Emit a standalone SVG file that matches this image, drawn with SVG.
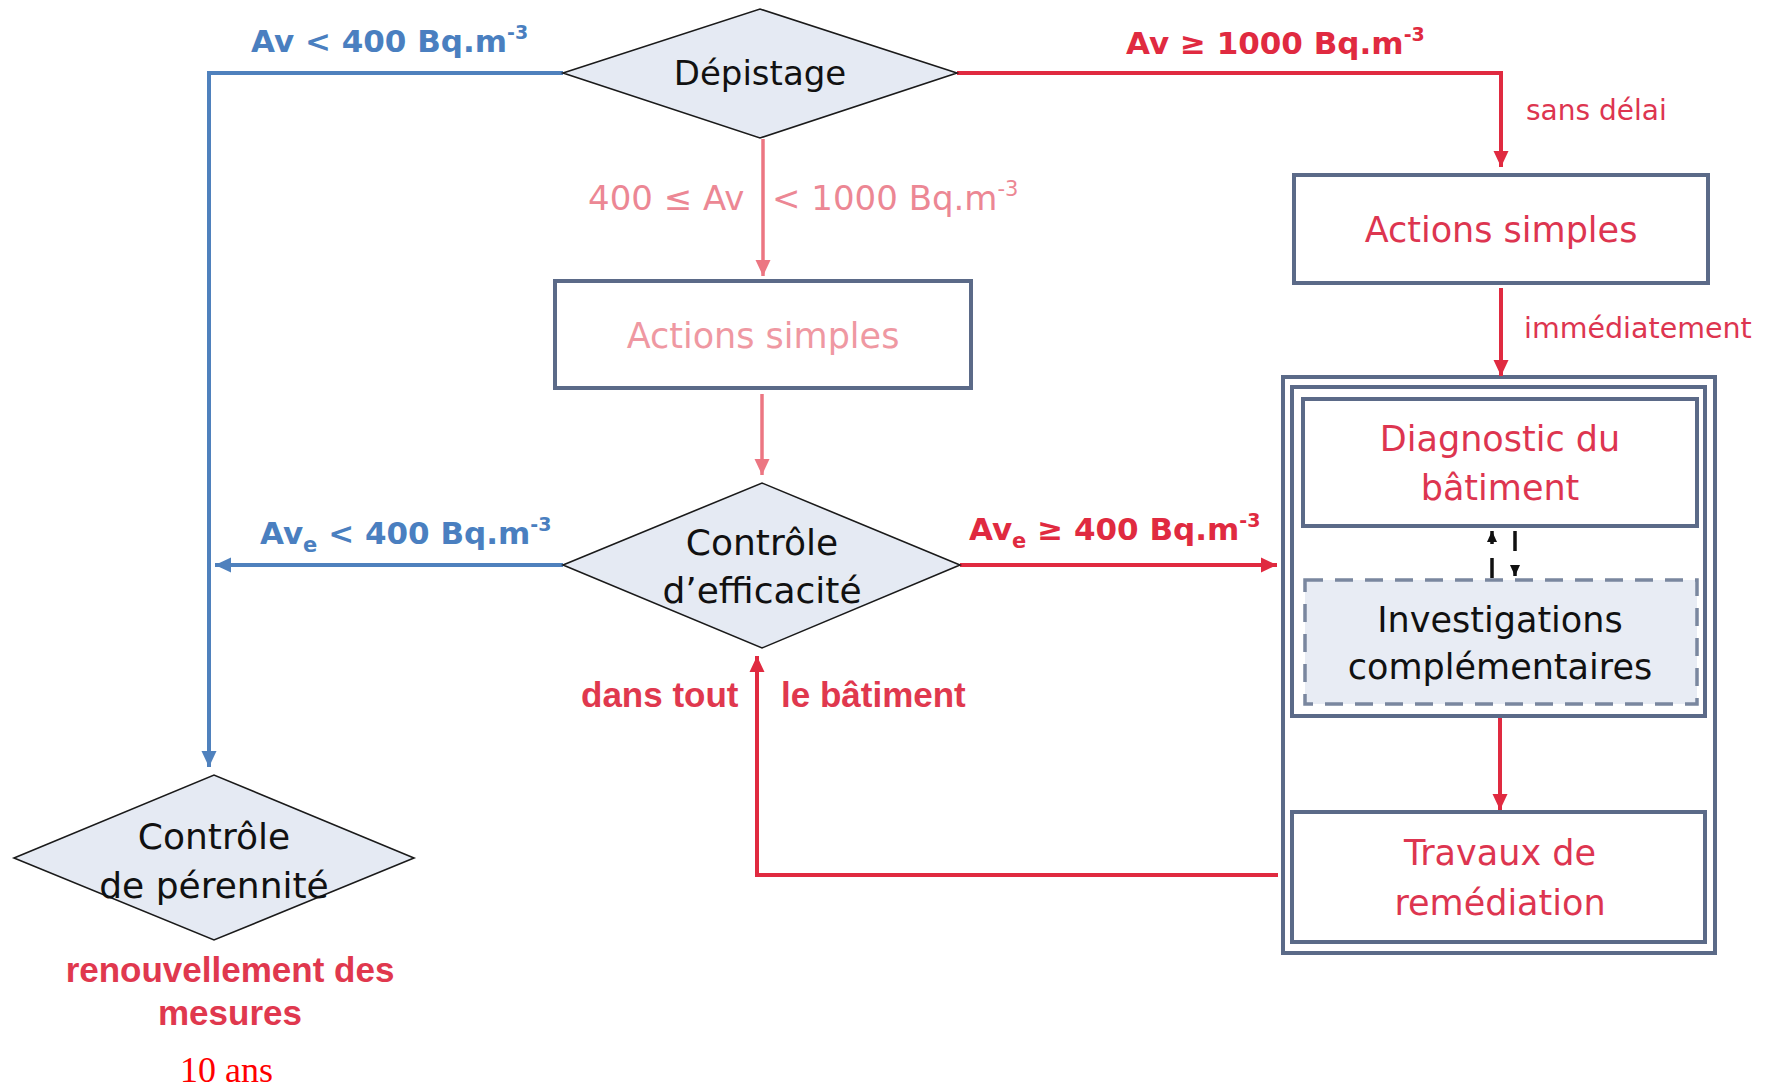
<svg xmlns="http://www.w3.org/2000/svg" width="1773" height="1087" viewBox="0 0 1773 1087">
<style>
  .bg{fill:#ffffff}
  .dia{fill:#e5eaf3;stroke:#1a1a1a;stroke-width:1.6}
  .box{fill:#ffffff;stroke:#5b6a88;stroke-width:4}
  .frame{fill:none;stroke:#5b6a88;stroke-width:4}
  .dash{fill:#e8ecf4;stroke:#7a879f;stroke-width:3.5;stroke-dasharray:18 12}
  .t{font-family:"DejaVu Sans","Verdana",sans-serif;text-anchor:middle}
  .lab{font-family:"DejaVu Sans","Verdana",sans-serif}
  .b{font-weight:bold}
  .black{fill:#111111}
  .red{fill:#dd3550}
  .redb{fill:#e02a40}
  .pink{fill:#ef98a2}
  .pinkl{fill:#ec8794}
  .blue{fill:#4a7fc0}
  .arb{font-family:"Liberation Sans",Arial,sans-serif;font-weight:bold;fill:#e0384e}
  .cb{fill:none;stroke:#4f81bd;stroke-width:4}
  .cr{fill:none;stroke:#e02a40;stroke-width:4}
  .cp{fill:none;stroke:#ec7682;stroke-width:3.5}
  .ck{fill:none;stroke:#111111;stroke-width:3.5;stroke-dasharray:20 14}
</style>
<defs>
  <marker id="ab" markerUnits="userSpaceOnUse" markerWidth="17" markerHeight="17" refX="16" refY="8.5" orient="auto"><path d="M0,1 L16,8.5 L0,16 z" fill="#4f81bd"/></marker>
  <marker id="ar" markerUnits="userSpaceOnUse" markerWidth="17" markerHeight="17" refX="16" refY="8.5" orient="auto"><path d="M0,1 L16,8.5 L0,16 z" fill="#e02a40"/></marker>
  <marker id="ap" markerUnits="userSpaceOnUse" markerWidth="17" markerHeight="17" refX="16" refY="8.5" orient="auto"><path d="M0,1 L16,8.5 L0,16 z" fill="#ec7682"/></marker>
  <marker id="ak" markerUnits="userSpaceOnUse" markerWidth="12" markerHeight="12" refX="11" refY="6" orient="auto"><path d="M0,1 L11,6 L0,11 z" fill="#111111"/></marker>
</defs>
<rect class="bg" x="0" y="0" width="1773" height="1087"/>

<g id="conteneur">
  <rect class="frame" x="1283" y="377" width="432" height="576" stroke-width="4.5"/>
  <rect class="frame" x="1292" y="387" width="413" height="329"/>
</g>

<g id="connectors">
  <path class="cb" d="M563,73 H209 V767" marker-end="url(#ab)"/>
  <path class="cr" d="M957,73 H1501 V167" marker-end="url(#ar)"/>
  <path class="cp" d="M763,139 V276" marker-end="url(#ap)"/>
  <path class="cr" d="M1501,288 V376" marker-end="url(#ar)"/>
  <path class="cp" d="M762,394 V475" marker-end="url(#ap)"/>
  <path class="cb" d="M563,565 H215" marker-end="url(#ab)"/>
  <path class="cr" d="M960,565 H1277" marker-end="url(#ar)"/>
  <path class="cr" d="M1500,718 V810" marker-end="url(#ar)"/>
  <path class="cr" d="M1278,875 H757 V656" marker-end="url(#ar)"/>
  <path class="ck" d="M1492,578 V531" marker-end="url(#ak)"/>
  <path class="ck" d="M1515,531 V576" marker-end="url(#ak)"/>
</g>

<g id="labels">
  <text class="lab b blue" x="251" y="52" font-size="31">Av &lt; 400 Bq.m<tspan font-size="19" dy="-13">-3</tspan></text>
  <text class="lab b redb" x="1126" y="54" font-size="31">Av ≥ 1000 Bq.m<tspan font-size="19" dy="-13">-3</tspan></text>
  <text class="lab pinkl" x="588" y="210" font-size="34">400 ≤ Av</text>
  <text class="lab pinkl" x="772" y="210" font-size="34">&lt; 1000 Bq.m<tspan font-size="21" dy="-14">-3</tspan></text>
  <text class="lab red" x="1526" y="120" font-size="28">sans délai</text>
  <text class="lab red" x="1524" y="338" font-size="28.5">immédiatement</text>
  <text class="lab b blue" x="260" y="544" font-size="31">Av<tspan font-size="21" dy="8">e</tspan><tspan dy="-8"> &lt; 400 Bq.m</tspan><tspan font-size="19" dy="-13">-3</tspan></text>
  <text class="lab b redb" x="969" y="540" font-size="31">Av<tspan font-size="21" dy="8">e</tspan><tspan dy="-8"> ≥ 400 Bq.m</tspan><tspan font-size="19" dy="-13">-3</tspan></text>
  <text class="arb" x="581" y="707" font-size="35">dans tout</text>
  <text class="arb" x="781" y="707" font-size="35">le bâtiment</text>
  <text class="arb" x="230" y="982" font-size="35" text-anchor="middle">renouvellement des</text>
  <text class="arb" x="230" y="1025" font-size="35" text-anchor="middle">mesures</text>
  <text x="180" y="1082" font-size="36" fill="#ff0000" font-family="Liberation Serif,'Times New Roman',serif">10 ans</text>
</g>

<g id="depistage">
  <polygon class="dia" points="563,73 760,9 957,73 760,138"/>
  <text class="t black" x="760" y="85" font-size="34">Dépistage</text>
</g>
<g id="actions-simples-moyen">
  <rect class="box" x="555" y="281" width="416" height="107"/>
  <text class="t pink" x="763" y="348" font-size="35">Actions simples</text>
</g>
<g id="controle-efficacite">
  <polygon class="dia" points="563,565 762,483 960,565 762,648"/>
  <text class="t black" x="762" y="555" font-size="36">Contrôle</text>
  <text class="t black" x="762" y="603" font-size="36">d’efficacité</text>
</g>
<g id="controle-perennite">
  <polygon class="dia" points="14,858 214,775 414,858 214,940"/>
  <text class="t black" x="214" y="849" font-size="36">Contrôle</text>
  <text class="t black" x="214" y="898" font-size="36">de pérennité</text>
</g>
<g id="actions-simples-urgent">
  <rect class="box" x="1294" y="175" width="414" height="108"/>
  <text class="t red" x="1501" y="242" font-size="35">Actions simples</text>
</g>
<g id="diagnostic">
  <rect class="box" x="1303" y="399" width="394" height="127"/>
  <text class="t red" x="1500" y="451" font-size="35">Diagnostic du</text>
  <text class="t red" x="1500" y="500" font-size="35">bâtiment</text>
</g>
<g id="investigations">
  <rect class="dash" x="1305" y="580" width="392" height="124"/>
  <text class="t black" x="1500" y="632" font-size="35">Investigations</text>
  <text class="t black" x="1500" y="679" font-size="35">complémentaires</text>
</g>
<g id="travaux">
  <rect class="box" x="1292" y="812" width="413" height="130"/>
  <text class="t red" x="1500" y="865" font-size="35">Travaux de</text>
  <text class="t red" x="1500" y="915" font-size="35">remédiation</text>
</g>
</svg>
